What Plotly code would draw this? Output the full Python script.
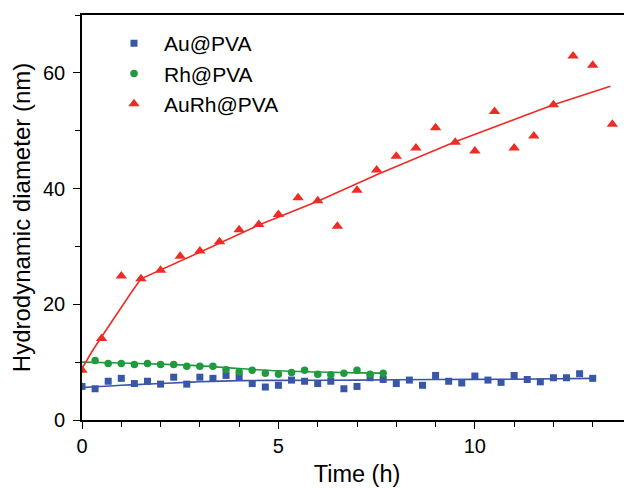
import plotly.graph_objects as go

# ---- data ----
au_time = [i / 3 for i in range(40)]
au_size = [5.8, 5.4, 6.7, 7.2, 6.3, 6.7, 6.2, 7.4, 6.2, 7.4,
           7.2, 7.7, 7.4, 6.3, 5.7, 6.0, 6.9, 6.7, 6.3, 6.7,
           5.4, 5.8, 7.3, 7.0, 6.3, 6.9, 6.0, 7.7, 6.7, 6.4,
           7.6, 6.9, 6.5, 7.7, 7.0, 6.6, 7.3, 7.3, 8.0, 7.2]
au_fit_time = [0, 1, 2, 3, 4, 5, 7, 9, 11, 13]
au_fit_size = [5.6, 6.0, 6.3, 6.6, 6.8, 6.85, 6.9, 7.0, 7.05, 7.2]

rh_time = [i / 3 for i in range(1, 24)]
rh_size = [10.3, 9.75, 9.75, 9.6, 9.75, 9.6, 9.6, 9.3, 9.3, 9.3,
           8.7, 8.3, 8.6, 8.1, 7.9, 8.2, 8.6, 7.9, 7.8, 8.1,
           8.6, 7.9, 8.1]
rh_fit_time = [0, 1, 2, 3, 4, 5, 6, 7, 7.67]
rh_fit_size = [10.0, 9.85, 9.65, 9.35, 8.9, 8.5, 8.3, 8.15, 8.1]

aurh_time = [i * 0.5 for i in range(28)]
aurh_size = [8.6, 14.1, 24.9, 24.4, 25.9, 28.3, 29.2, 30.8, 32.9, 33.8,
             35.5, 38.4, 37.9, 33.5, 39.7, 43.2, 45.6, 47.0, 50.5, 48.0,
             46.5, 53.3, 47.0, 49.1, 54.5, 62.9, 61.3, 51.1]
aurh_fit_time = [0, 0.25, 0.5, 0.75, 1.0, 1.25, 1.5, 2, 3, 4.5, 6, 7.5, 9.5, 12, 13.45]
aurh_fit_size = [8.9, 11.8, 14.4, 17.0, 19.5, 22.0, 24.4, 25.9, 29.0, 33.7,
                 37.8, 42.4, 48.1, 54.5, 57.7]

x_range = [0, 14]
y_range = [0, 70]

BLUE = "#3a56a6"
GREEN = "#1f9a3e"
RED = "#ee2b25"
FONT = "Liberation Sans, Arial, sans-serif"

fig = go.Figure()

# fit lines (not in legend)
fig.add_trace(go.Scatter(x=au_fit_time, y=au_fit_size, mode="lines",
                         line=dict(color=BLUE, width=1.6, shape="spline"),
                         showlegend=False, hoverinfo="skip"))
fig.add_trace(go.Scatter(x=rh_fit_time, y=rh_fit_size, mode="lines",
                         line=dict(color=GREEN, width=1.6, shape="spline"),
                         showlegend=False, hoverinfo="skip"))
fig.add_trace(go.Scatter(x=aurh_fit_time, y=aurh_fit_size, mode="lines",
                         line=dict(color=RED, width=1.6),
                         showlegend=False, hoverinfo="skip"))

# markers
fig.add_trace(go.Scatter(x=au_time, y=au_size, mode="markers", name="Au@PVA",
                         marker=dict(symbol="square", size=7, color=BLUE)))
fig.add_trace(go.Scatter(x=rh_time, y=rh_size, mode="markers", name="Rh@PVA",
                         marker=dict(symbol="circle", size=7.5, color=GREEN)))
fig.add_trace(go.Scatter(x=aurh_time, y=aurh_size, mode="markers", name="AuRh@PVA",
                         marker=dict(symbol="triangle-up", size=10, color=RED)))

# the page body adds 8px around the figure, so margins are reduced by 8px
fig.update_layout(
    width=632, height=488,
    margin=dict(l=74, r=8, t=7, b=76),
    paper_bgcolor="white", plot_bgcolor="white",
    font=dict(family=FONT, color="black", size=20),
    legend=dict(x=0.04, y=0.98, xanchor="left", yanchor="top",
                font=dict(size=21, family=FONT), bgcolor="rgba(0,0,0,0)",
                itemwidth=50, tracegroupgap=0),
    xaxis=dict(range=x_range, showgrid=False, zeroline=False, automargin=False,
               showline=True, linecolor="black", linewidth=1.6, mirror=True,
               ticks="outside", ticklen=7, tickwidth=1.4, tickcolor="black",
               tick0=0, dtick=5,
               minor=dict(ticks="outside", ticklen=5, tickwidth=1.4,
                          tickcolor="black", dtick=1, showgrid=False),
               tickfont=dict(size=20),
               title=dict(text="Time (h)", font=dict(size=23.5), standoff=10)),
    yaxis=dict(range=y_range, showgrid=False, zeroline=False, automargin=False,
               showline=True, linecolor="black", linewidth=1.6,
               ticks="outside", ticklen=7, tickwidth=1.4, tickcolor="black",
               tick0=0, dtick=20, ticklabelstandoff=4,
               minor=dict(ticks="outside", ticklen=5, tickwidth=1.4,
                          tickcolor="black", dtick=10, showgrid=False),
               tickfont=dict(size=20),
               title=dict(text="Hydrodynamic diameter (nm)", font=dict(size=24), standoff=8)),
)

fig.write_html("out.html")
